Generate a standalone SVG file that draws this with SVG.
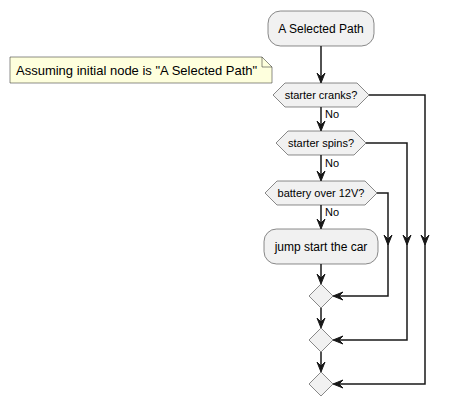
<svg xmlns="http://www.w3.org/2000/svg" width="449" height="407" viewBox="0 0 449 407">
<defs>
<style>
.act{fill:#F1F1F1;stroke:#181818;stroke-width:0.5}
.t{font-family:"Liberation Sans",Arial,sans-serif;fill:#000}
.ln{fill:none;stroke:#181818;stroke-width:1.5}
.ah{fill:#181818;stroke:#181818;stroke-width:1}
</style>
</defs>
<rect width="449" height="407" fill="#FFFFFF"/>
<g id="start">
<rect class="act" x="268" y="11" width="106" height="35" rx="12.5" ry="12.5"/>
<text class="t" x="321" y="33" font-size="12" text-anchor="middle">A Selected Path</text>
</g>
<g id="note">
<path d="M10,57 L262,57 L272,67 L272,83 L10,83 Z" fill="#FEFFDD" stroke="#181818" stroke-width="0.5"/>
<path d="M262,57 L262,67 L272,67" fill="none" stroke="#181818" stroke-width="0.5"/>
<text class="t" x="16" y="75" font-size="13">Assuming initial node is "A Selected Path"</text>
</g>
<g id="q1">
<polygon class="act" points="273,95 285,83 357,83 369,95 357,107 285,107"/>
<text class="t" x="321" y="99" font-size="11" text-anchor="middle">starter cranks?</text>
</g>
<g id="q2">
<polygon class="act" points="276,143 288,131 354,131 366,143 354,155 288,155"/>
<text class="t" x="321" y="147" font-size="11" text-anchor="middle">starter spins?</text>
</g>
<g id="q3">
<polygon class="act" points="265,193 277,181 365,181 377,193 365,205 277,205"/>
<text class="t" x="321" y="197" font-size="11" text-anchor="middle">battery over 12V?</text>
</g>
<g id="jump">
<rect class="act" x="264" y="229" width="114" height="35" rx="12.5" ry="12.5"/>
<text class="t" x="321" y="251" font-size="12" text-anchor="middle">jump start the car</text>
</g>
<g id="m1"><polygon class="act" points="321,284 333,296 321,308 309,296"/></g>
<g id="m2"><polygon class="act" points="321,328 333,340 321,352 309,340"/></g>
<g id="m3"><polygon class="act" points="321,372 333,384 321,396 309,384"/></g>
<g id="connectors">
<path class="ln" d="M321,46 L321,80"/>
<polygon class="ah" points="317,73 321,83 325,73 321,77"/>
<path class="ln" d="M321,107 L321,128"/>
<polygon class="ah" points="317,121 321,131 325,121 321,125"/>
<text class="t" x="325" y="118" font-size="11">No</text>
<path class="ln" d="M321,155 L321,178"/>
<polygon class="ah" points="317,171 321,181 325,171 321,175"/>
<text class="t" x="325" y="167" font-size="11">No</text>
<path class="ln" d="M321,205 L321,226"/>
<polygon class="ah" points="317,219 321,229 325,219 321,223"/>
<text class="t" x="325" y="216" font-size="11">No</text>
<path class="ln" d="M321,264 L321,281"/>
<polygon class="ah" points="317,274 321,284 325,274 321,278"/>
<path class="ln" d="M321,308 L321,325"/>
<polygon class="ah" points="317,318 321,328 325,318 321,322"/>
<path class="ln" d="M321,352 L321,369"/>
<polygon class="ah" points="317,362 321,372 325,362 321,366"/>
<path class="ln" d="M377,193 L388,193 L388,296 L336,296"/>
<polygon class="ah" points="384,235 388,245 392,235 388,239"/>
<polygon class="ah" points="343,292 333,296 343,300 339,296"/>
<path class="ln" d="M366,143 L407,143 L407,340 L336,340"/>
<polygon class="ah" points="403,235 407,245 411,235 407,239"/>
<polygon class="ah" points="343,336 333,340 343,344 339,340"/>
<path class="ln" d="M369,95 L425,95 L425,384 L336,384"/>
<polygon class="ah" points="421,235 425,245 429,235 425,239"/>
<polygon class="ah" points="343,380 333,384 343,388 339,384"/>
</g>
</svg>
